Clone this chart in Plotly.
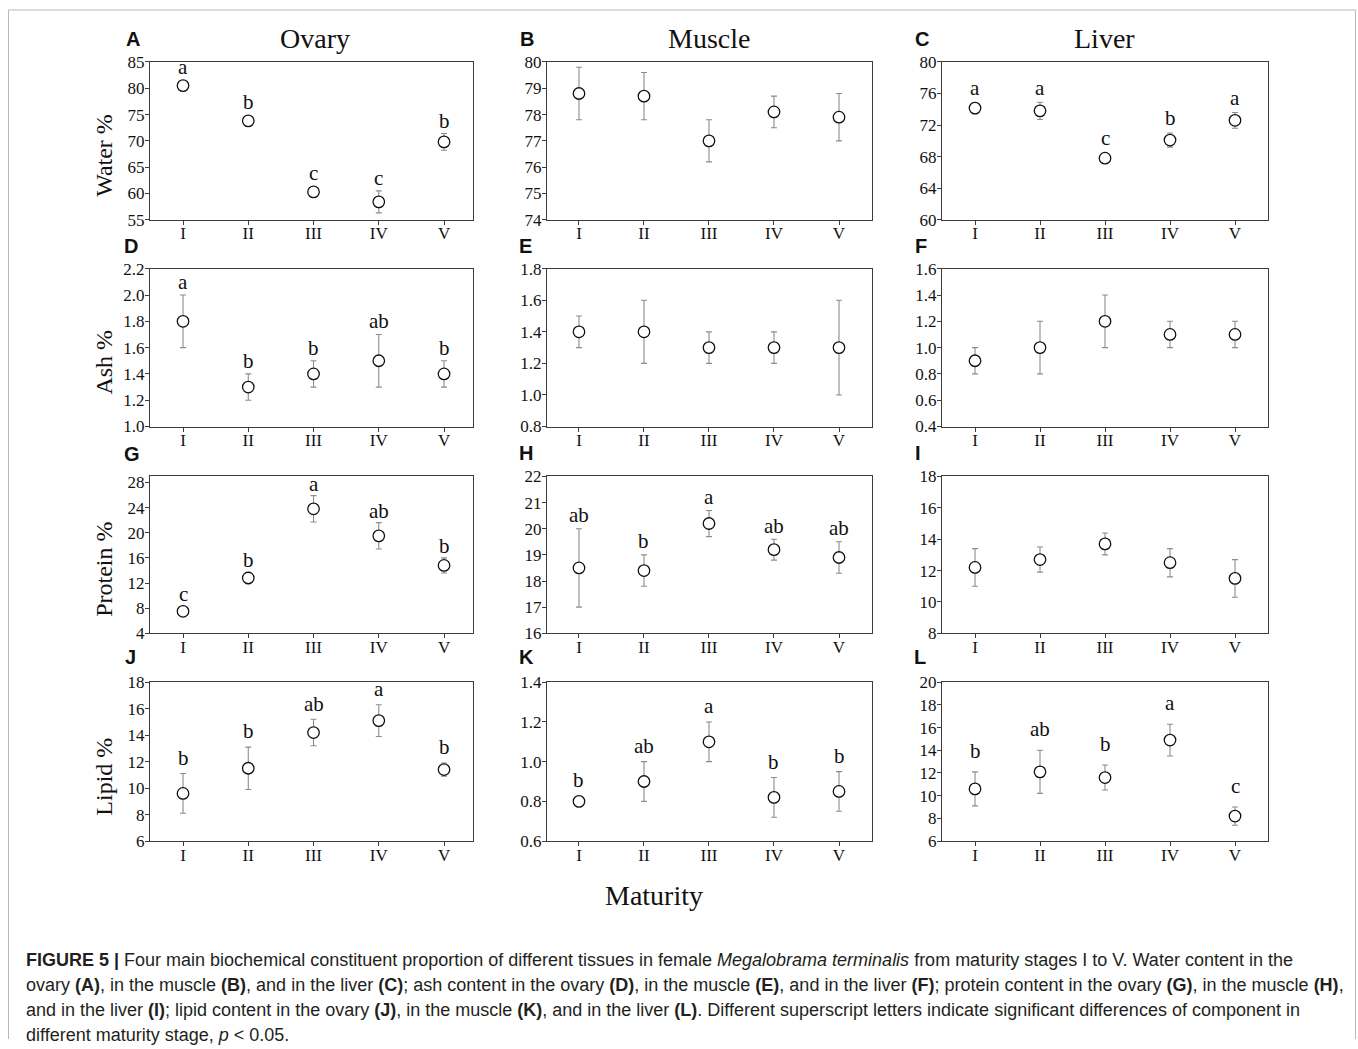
import plotly.graph_objects as go

W, H = 1358, 1049

stages = ["I", "II", "III", "IV", "V"]

water_ovary = [80.5, 73.8, 60.3, 58.4, 69.8]
water_ovary_sd = [0.5, 0.9, 0.8, 2.1, 1.6]
water_muscle = [78.8, 78.7, 77.0, 78.1, 77.9]
water_muscle_sd = [1.0, 0.9, 0.8, 0.6, 0.9]
water_liver = [74.15, 73.8, 67.8, 70.1, 72.6]
water_liver_sd = [0.7, 1.1, 0.5, 0.9, 1.0]

ash_ovary = [1.8, 1.3, 1.4, 1.5, 1.4]
ash_ovary_sd = [0.2, 0.1, 0.1, 0.2, 0.1]
ash_muscle = [1.4, 1.4, 1.3, 1.3, 1.3]
ash_muscle_sd = [0.1, 0.2, 0.1, 0.1, 0.3]
ash_liver = [0.9, 1.0, 1.2, 1.1, 1.1]
ash_liver_sd = [0.1, 0.2, 0.2, 0.1, 0.1]

protein_ovary = [7.5, 12.8, 23.8, 19.5, 14.8]
protein_ovary_sd = [0.5, 0.9, 2.1, 2.1, 1.2]
protein_muscle = [18.5, 18.4, 20.2, 19.2, 18.9]
protein_muscle_sd = [1.5, 0.6, 0.5, 0.4, 0.6]
protein_liver = [12.2, 12.7, 13.7, 12.5, 11.5]
protein_liver_sd = [1.2, 0.8, 0.7, 0.9, 1.2]

lipid_ovary = [9.6, 11.5, 14.2, 15.1, 11.4]
lipid_ovary_sd = [1.5, 1.6, 1.0, 1.2, 0.5]
lipid_muscle = [0.80, 0.90, 1.10, 0.82, 0.85]
lipid_muscle_sd = [0.0, 0.1, 0.1, 0.1, 0.1]
lipid_liver = [10.6, 12.1, 11.6, 14.9, 8.2]
lipid_liver_sd = [1.5, 1.9, 1.1, 1.4, 0.8]

letters_A = ["a", "b", "c", "c", "b"]
letters_C = ["a", "a", "c", "b", "a"]
letters_D = ["a", "b", "b", "ab", "b"]
letters_G = ["c", "b", "a", "ab", "b"]
letters_H = ["ab", "b", "a", "ab", "ab"]
letters_J = ["b", "b", "ab", "a", "b"]
letters_K = ["b", "ab", "a", "b", "b"]
letters_L = ["b", "ab", "b", "a", "c"]

row_titles = ["Water %", "Ash %", "Protein %", "Lipid %"]
col_titles = ["Ovary", "Muscle", "Liver"]
x_title = "Maturity"

# ---- layout geometry (target pixels in the photographed page) ----
col_px = [(150, 473), (547, 871.5), (942, 1267.5)]
col_xrange = [(-0.506, 4.444), (-0.492, 4.5), (-0.508, 4.5)]
row_px = [(61, 219), (268, 426), (476, 633), (682, 841)]

panels = [
    # (letter, row, col, values, sd, yrange, dtick, tickformat, sig letters, gap px, letter pos)
    ("A", 0, 0, water_ovary, water_ovary_sd, (55, 85), 5, "d", letters_A, 4, (132.5, 38)),
    ("B", 0, 1, water_muscle, water_muscle_sd, (74, 80), 1, "d", None, 0, (526.5, 38)),
    ("C", 0, 2, water_liver, water_liver_sd, (60, 80), 4, "d", letters_C, 6, (921.5, 38)),
    ("D", 1, 0, ash_ovary, ash_ovary_sd, (1.0, 2.2), 0.2, ".1f", letters_D, 4.5, (131, 245)),
    ("E", 1, 1, ash_muscle, ash_muscle_sd, (0.8, 1.8), 0.2, ".1f", None, 0, (525, 245)),
    ("F", 1, 2, ash_liver, ash_liver_sd, (0.4, 1.6), 0.2, ".1f", None, 0, (920.5, 245)),
    ("G", 2, 0, protein_ovary, protein_ovary_sd, (4, 28.95), 4, "d", letters_G, 3, (132, 454)),
    ("H", 2, 1, protein_muscle, protein_muscle_sd, (16, 22), 1, "d", letters_H, 5, (525.5, 453)),
    ("I", 2, 2, protein_liver, protein_liver_sd, (8, 18), 2, "d", None, 0, (917.5, 453)),
    ("J", 3, 0, lipid_ovary, lipid_ovary_sd, (6, 18), 2, "d", letters_J, 7, (130.5, 657)),
    ("K", 3, 1, lipid_muscle, lipid_muscle_sd, (0.6, 1.4), 0.2, ".1f", letters_K, 7, (526, 657)),
    ("L", 3, 2, lipid_liver, lipid_liver_sd, (6, 20), 2, "d", letters_L, 12, (920, 657)),
]

SERIF = "Liberation Serif, Times New Roman, serif"
SANS = "Liberation Sans, Arial, sans-serif"
AXIS_COLOR = "#3c3c3c"
ERR_COLOR = "#8c8c8c"

# the photographed page shows the figure slightly shifted/compressed vertically;
# compensate so that elements land at the target pixel rows
V_OFF, V_SCALE = 8.0, 0.983


def px2x(p):
    return p / W


def px2y(p):
    return 1 - ((p - V_OFF) / V_SCALE) / H


fig = go.Figure()
annotations = []
layout_axes = {}

for idx, (lab, r, c, vals, sd, yr, dt, tf, sig, gap, lpos) in enumerate(panels):
    n = idx + 1
    xa = "x" if n == 1 else f"x{n}"
    ya = "y" if n == 1 else f"y{n}"
    xkey = "xaxis" if n == 1 else f"xaxis{n}"
    ykey = "yaxis" if n == 1 else f"yaxis{n}"

    fig.add_trace(go.Scatter(
        x=stages, y=vals, xaxis=xa, yaxis=ya, mode="markers",
        marker=dict(symbol="circle", size=11.5, color="white",
                    line=dict(color="#111111", width=1.3)),
        error_y=dict(type="data", array=sd, symmetric=True, color=ERR_COLOR,
                     thickness=1.1, width=3),
        showlegend=False, hoverinfo="skip",
    ))

    x0, x1 = col_px[c]
    y0, y1 = row_px[r]
    layout_axes[xkey] = dict(
        domain=[px2x(x0), px2x(x1)], anchor=ya, type="category",
        range=list(col_xrange[c]), showline=True, mirror=True,
        linecolor=AXIS_COLOR, linewidth=1.2, ticks="outside", ticklen=4,
        tickcolor=AXIS_COLOR, showgrid=False, zeroline=False,
        ticklabelstandoff=-6,
        tickfont=dict(family=SERIF, size=17, color="#111111"),
        fixedrange=True,
    )
    layout_axes[ykey] = dict(
        domain=[px2y(y1), px2y(y0)], anchor=xa, range=list(yr),
        tick0=yr[0], dtick=dt, tickformat=tf, showline=True, mirror=True,
        linecolor=AXIS_COLOR, linewidth=1.2, ticks="outside", ticklen=4,
        tickcolor=AXIS_COLOR, showgrid=False, zeroline=False,
        ticklabelstandoff=-3,
        tickfont=dict(family=SERIF, size=17, color="#111111"),
        fixedrange=True,
    )

    # panel letter
    annotations.append(dict(
        text=f"<b>{lab}</b>", x=px2x(lpos[0]), y=px2y(lpos[1]),
        xref="paper", yref="paper", xanchor="center", yanchor="middle",
        showarrow=False, font=dict(family=SANS, size=20, color="#111111"),
    ))

    # significance letters
    if sig:
        ppu = (y1 - y0) / V_SCALE / (yr[1] - yr[0])
        for s, v, e, t in zip(stages, vals, sd, sig):
            off = max(e * ppu, 6) + gap
            annotations.append(dict(
                text=t, x=s, y=v, xref=xa, yref=ya, xanchor="center",
                yanchor="bottom", yshift=off - 5.5, showarrow=False,
                font=dict(family=SERIF, size=21, color="#111111"),
            ))

# column titles
for c, t in enumerate(col_titles):
    x0, x1 = col_px[c]
    annotations.append(dict(
        text=t, x=px2x((x0 + x1) / 2 + (c == 0) * 3), y=px2y(38),
        xref="paper", yref="paper", xanchor="center", yanchor="middle",
        showarrow=False, font=dict(family=SERIF, size=28, color="#111111"),
    ))

# row titles
for r, t in enumerate(row_titles):
    y0, y1 = row_px[r]
    annotations.append(dict(
        text=t, x=px2x(104), y=px2y((y0 + y1) / 2 + 15), textangle=-90,
        xref="paper", yref="paper", xanchor="center", yanchor="middle",
        showarrow=False, font=dict(family=SERIF, size=24, color="#111111"),
    ))

# x title
annotations.append(dict(
    text=x_title, x=px2x(654), y=px2y(896), xref="paper", yref="paper",
    xanchor="center", yanchor="middle", showarrow=False,
    font=dict(family=SERIF, size=28, color="#111111"),
))

caption_lines = [
    "<b>FIGURE 5 |</b> Four main biochemical constituent proportion of different tissues in female "
    "<i>Megalobrama terminalis</i> from maturity stages I to V. Water content in the",
    "ovary <b>(A)</b>, in the muscle <b>(B)</b>, and in the liver <b>(C)</b>; ash content in the ovary "
    "<b>(D)</b>, in the muscle <b>(E)</b>, and in the liver <b>(F)</b>; protein content in the ovary "
    "<b>(G)</b>, in the muscle <b>(H)</b>,",
    "and in the liver <b>(I)</b>; lipid content in the ovary <b>(J)</b>, in the muscle <b>(K)</b>, "
    "and in the liver <b>(L)</b>. Different superscript letters indicate significant differences of component in",
    "different maturity stage, <i>p</i> &lt; 0.05.",
]
for i, line in enumerate(caption_lines):
    annotations.append(dict(
        text=line, x=px2x(24), y=px2y(960 + 25 * i), xref="paper", yref="paper",
        xanchor="left", yanchor="middle", showarrow=False, align="left",
        font=dict(family=SANS, size=18, color="#231f20"),
    ))

BORDER = dict(color="#b8b8b8", width=1)
border_shapes = [
    dict(type="line", xref="paper", yref="paper", x0=px2x(8.5), x1=px2x(1355.5),
         y0=px2y(9), y1=px2y(9), line=BORDER),
    dict(type="line", xref="paper", yref="paper", x0=px2x(8.5), x1=px2x(8.5),
         y0=px2y(9), y1=0, line=BORDER),
    dict(type="line", xref="paper", yref="paper", x0=px2x(1355.5), x1=px2x(1355.5),
         y0=px2y(9), y1=0, line=BORDER),
]

fig.update_layout(
    width=W, height=H, autosize=False, margin=dict(l=0, r=0, t=0, b=0),
    paper_bgcolor="white", plot_bgcolor="white",
    annotations=annotations, showlegend=False,
    shapes=border_shapes,
    **layout_axes,
)

fig.write_html("out.html", config={"displayModeBar": False})
